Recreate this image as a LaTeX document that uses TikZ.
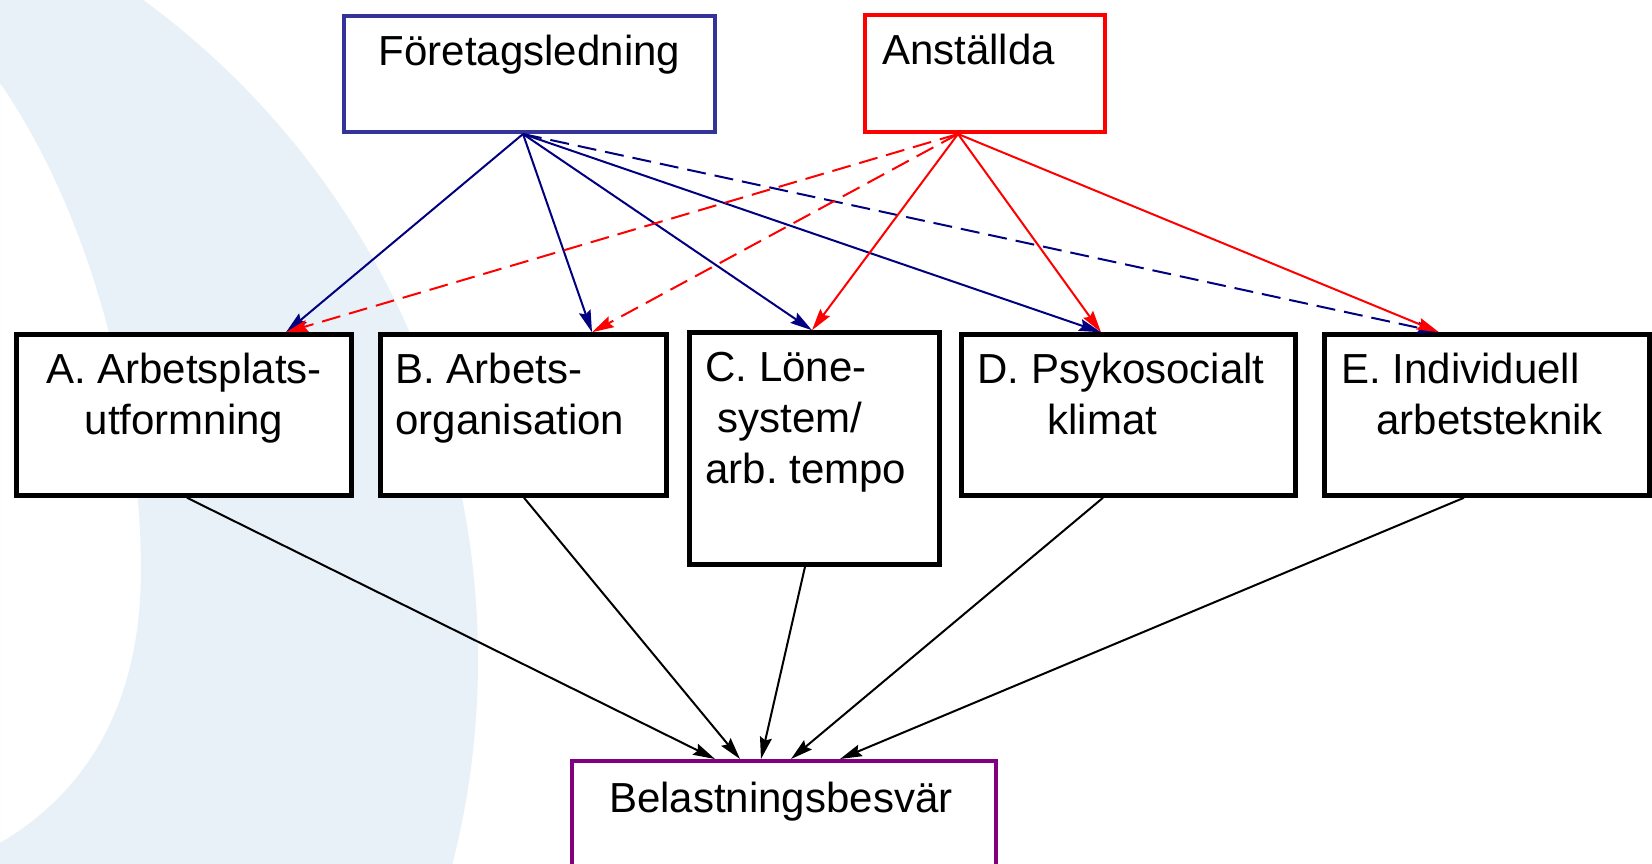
\documentclass[tikz,border=0pt]{standalone}
\usepackage{fontspec}
\setmainfont{Liberation Sans}
\usetikzlibrary{arrows.meta}
\definecolor{ledblue}{RGB}{51,51,153}
\definecolor{arrblue}{RGB}{0,0,128}
\definecolor{besvar}{RGB}{128,0,128}
\definecolor{wmark}{RGB}{232,240,248}
\frenchspacing

\begin{document}
\begin{tikzpicture}[x=1pt,y=-1pt,
    every node/.style={font=\fontsize{42}{51}\selectfont, inner sep=0pt},
    ruta/.style={draw, rectangle, line width=4.5pt, fill=white},
    txt/.style={anchor=north west, align=left},
    pil/.style={line width=2pt, -{Stealth[length=22pt,width=12pt,inset=3pt]}},
    streck/.style={dash pattern=on 19pt off 9pt}]
	\useasboundingbox (0,0) rectangle (1652,863);
	\clip (0,0) rectangle (1652,863);
	\fill[white] (0,0) rectangle (1652,863);
	\fill[wmark, even odd rule] (-340,660) circle (818)
		(0,83) .. controls (95,220) and (141,420) .. (141,570) .. controls (141,700) and (90,790) .. (0,843) -- cycle;
	\node[ruta, draw=ledblue, line width=4pt, minimum width=371pt, minimum height=116pt] (led) at (529.5,74) {};
	\node[ruta, draw=red, line width=4pt, minimum width=240pt, minimum height=117pt] (anst) at (985,73.5) {};
	\node[ruta, minimum width=335pt, minimum height=161pt] (a) at (184,415) {};
	\node[ruta, minimum width=286pt, minimum height=161pt] (b) at (523.5,415) {};
	\node[ruta, minimum width=250pt, minimum height=232pt] (c) at (814.5,448.5) {};
	\node[ruta, minimum width=334pt, minimum height=161pt] (d) at (1128.5,415) {};
	\node[ruta, minimum width=325pt, minimum height=161pt] (e) at (1487,415) {};
	\node[ruta, draw=besvar, line width=4pt, minimum width=424pt, minimum height=110pt] (bel) at (784,816) {};
	\node[anchor=north] (led-txt) at ([yshift=-15.3pt]led.north) {\strut Företagsledning};
	\node[txt] (anst-txt) at ([xshift=19pt, yshift=-15.3pt]anst.north west) {\strut Anställda};
	\node[anchor=north, align=center] (a-txt) at ([yshift=-15.3pt]a.north) {\strut A. Arbetsplats-\\utformning};
	\node[txt] (b-txt) at ([xshift=17pt, yshift=-15.3pt]b.north west) {\strut B. Arbets-\\organisation};
	\node[txt] (c-txt) at ([xshift=18pt, yshift=-15.3pt]c.north west) {\strut C. Löne-\\\hspace*{12pt}system/\\arb. tempo};
	\node[txt] (d-txt) at ([xshift=18pt, yshift=-15.3pt]d.north west) {\strut D. Psykosocialt\\\hspace*{70pt}klimat};
	\node[txt] (e-txt) at ([xshift=19pt, yshift=-15.3pt]e.north west) {\strut E. Individuell\\\hspace*{35pt}arbetsteknik};
	\node[txt] (bel-txt) at ([xshift=39pt, yshift=-17.3pt]bel.north west) {\strut Belastningsbesvär};
	\draw[pil, arrblue] ([xshift=-6.5pt]led.south) -- ([xshift=102pt]a.north);
	\draw[pil, arrblue] ([xshift=-6.5pt]led.south) -- ([xshift=68.5pt]b.north);
	\draw[pil, arrblue] ([xshift=-6.5pt]led.south) -- ([xshift=-2.5pt]c.north);
	\draw[pil, arrblue] ([xshift=-6.5pt]led.south) -- ([xshift=-27.5pt]d.north);
	\draw[pil, arrblue, streck] ([xshift=-6.5pt]led.south) -- ([xshift=-48pt]e.north);
	\draw[pil, red, streck] ([xshift=-27pt]anst.south) -- ([xshift=102pt]a.north);
	\draw[pil, red, streck] ([xshift=-27pt]anst.south) -- ([xshift=68.5pt]b.north);
	\draw[pil, red] ([xshift=-27pt]anst.south) -- ([xshift=-2.5pt]c.north);
	\draw[pil, red] ([xshift=-27pt]anst.south) -- ([xshift=-27.5pt]d.north);
	\draw[pil, red] ([xshift=-27pt]anst.south) -- ([xshift=-48pt]e.north);
	\draw[pil] ([xshift=3pt]a.south) -- ([xshift=-69pt]bel.north);
	\draw[pil] ([xshift=0.5pt]b.south) -- ([xshift=-44pt]bel.north);
	\draw[pil] ([xshift=-9.5pt]c.south) -- ([xshift=-23pt]bel.north);
	\draw[pil] ([xshift=-25.5pt]d.south) -- ([xshift=7pt]bel.north);
	\draw[pil] ([xshift=-23pt]e.south) -- ([xshift=56pt]bel.north);
\end{tikzpicture}
\end{document}
